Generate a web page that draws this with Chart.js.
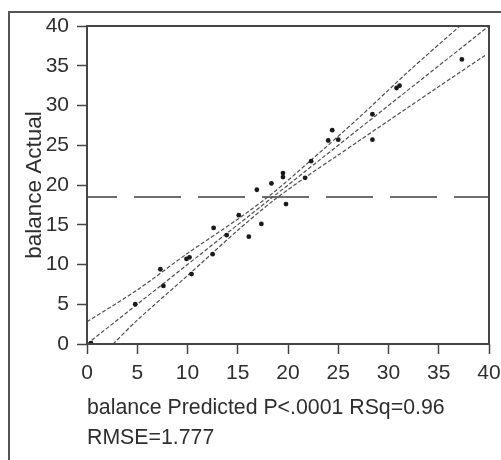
<!DOCTYPE html>
<html>
<head>
<meta charset="utf-8">
<script src="https://cdn.jsdelivr.net/npm/chart.js@4/dist/chart.umd.min.js"></script>
<style>
  html, body { margin: 0; padding: 0; background: #fff; overflow: hidden; }
  #wrap { position: relative; width: 501px; height: 460px; overflow: hidden; }
  #frame { position: absolute; left: 8px; top: 11px; width: 560px; height: 520px; border: 2px solid #555; }
  #chart { position: absolute; left: 0; top: 0; }
</style>
</head>
<body>
<div id="wrap">
  <div id="frame"></div>
  <canvas id="chart" width="501" height="460"></canvas>
</div>
<script>
// Observations: predicted vs actual balance
const predicted = [0.4, 4.8, 7.3, 7.6, 9.9, 10.2, 10.4, 12.5, 12.6, 13.9, 15.1, 16.1, 16.9, 17.35,
  18.35, 19.5, 19.5, 19.8, 21.7, 22.3, 24.0, 24.4, 25.0, 28.4, 28.4, 30.8, 31.1, 37.3];
const actual = [0.1, 5.0, 9.4, 7.3, 10.7, 10.9, 8.8, 11.3, 14.6, 13.7, 16.2, 13.5, 19.4, 15.1,
  20.2, 21.5, 21.0, 17.6, 20.9, 23.0, 25.6, 26.9, 25.7, 28.9, 25.7, 32.2, 32.5, 35.8];

// Mean of actual (horizontal reference)
const meanActual = 18.5;

// Confidence curves around the fit line
const upperX = [0, 5, 10, 15, 18.5, 22, 27, 32, 37.1];
const upperY = [2.8, 6.8, 11.4, 15.7, 19.0, 22.8, 28.4, 34.3, 40];
const lowerX = [2.6, 5, 10, 15, 18.5, 22, 24.8, 27, 32, 34.8, 39.6];
const lowerY = [0, 3.0, 8.6, 14.3, 18.0, 21.2, 23.6, 25.5, 29.8, 32.2, 36.3];

// Axis range and ticks
const axisMin = 0;
const axisMax = 40;
const tickStep = 5;

const xTitle = ['balance Predicted P<.0001 RSq=0.96', 'RMSE=1.777'];
const yTitle = 'balance Actual';

const toXY = (xs, ys) => xs.map((x, i) => ({ x, y: ys[i] }));

const textColor = '#2e2e2e';
const lineColor = '#505050';
const fontFamily = 'Liberation Sans, Arial, sans-serif';

// Box around the plot area
const plotBox = {
    id: 'plotBox',
    afterDatasetsDraw(chart) {
        const { ctx, chartArea: a } = chart;
        ctx.save();
        ctx.strokeStyle = '#454545';
        ctx.lineWidth = 2;
        ctx.strokeRect(a.left, a.top, a.right - a.left, a.bottom - a.top);
        ctx.restore();
    }
};

const ctx = document.getElementById('chart').getContext('2d');
new Chart(ctx, {
    type: 'scatter',
    data: {
        datasets: [
            {
                data: toXY(predicted, actual),
                pointStyle: 'circle',
                pointRadius: 2.4,
                pointBackgroundColor: '#1a1a1a',
                pointBorderWidth: 0,
                order: 0
            },
            {
                type: 'line',
                data: [{ x: axisMin, y: axisMin }, { x: axisMax, y: axisMax }],
                borderColor: lineColor,
                borderWidth: 1.2,
                borderDash: [4, 2],
                pointRadius: 0,
                order: 1
            },
            {
                type: 'line',
                data: toXY(upperX, upperY),
                borderColor: lineColor,
                borderWidth: 1.2,
                borderDash: [4, 2],
                tension: 0.3,
                pointRadius: 0,
                order: 2
            },
            {
                type: 'line',
                data: toXY(lowerX, lowerY),
                borderColor: lineColor,
                borderWidth: 1.2,
                borderDash: [4, 2],
                tension: 0.3,
                pointRadius: 0,
                order: 3
            },
            {
                type: 'line',
                data: [{ x: axisMin, y: meanActual }, { x: axisMax, y: meanActual }],
                borderColor: '#404040',
                borderWidth: 1.6,
                borderDash: [47, 17],
                borderDashOffset: 17,
                pointRadius: 0,
                order: 4
            }
        ]
    },
    options: {
        responsive: false,
        animation: false,
        devicePixelRatio: 1,
        layout: { padding: { left: 0, top: 26, right: 12, bottom: 0 } },
        plugins: {
            legend: { display: false },
            tooltip: { enabled: false }
        },
        scales: {
            x: {
                type: 'linear',
                min: axisMin,
                max: axisMax,
                border: { display: false },
                grid: { drawOnChartArea: false, drawTicks: true, tickLength: 10, tickColor: '#444', tickWidth: 1.5 },
                ticks: {
                    stepSize: tickStep,
                    padding: 7,
                    color: textColor,
                    font: { family: fontFamily, size: 21 }
                },
                title: {
                    display: true,
                    text: xTitle,
                    align: 'start',
                    color: textColor,
                    padding: { top: 0, bottom: 7 },
                    font: { family: fontFamily, size: 21.3, lineHeight: 1.41 }
                },
                afterFit(scale) {
                    scale.height = 116;
                    scale.paddingLeft = 0;
                    scale.paddingRight = 0;
                }
            },
            y: {
                type: 'linear',
                min: axisMin,
                max: axisMax,
                border: { display: false },
                grid: { drawOnChartArea: false, drawTicks: true, tickLength: 10, tickColor: '#444', tickWidth: 1.5 },
                ticks: {
                    stepSize: tickStep,
                    padding: 8,
                    color: textColor,
                    font: { family: fontFamily, size: 21 }
                },
                title: {
                    display: true,
                    text: yTitle,
                    color: textColor,
                    padding: { top: 21, bottom: 0 },
                    font: { family: fontFamily, size: 22.5 }
                },
                afterFit(scale) { scale.width = 87; }
            }
        }
    },
    plugins: [plotBox]
});
</script>
</body>
</html>
